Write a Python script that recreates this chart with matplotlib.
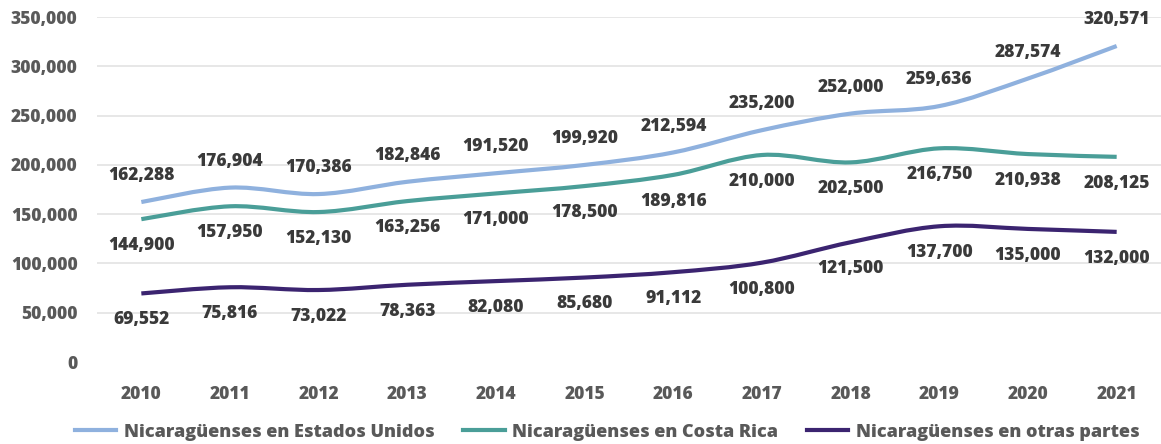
import numpy as np
import matplotlib
matplotlib.use("Agg")
from matplotlib import pyplot as plt
from matplotlib.path import Path
from matplotlib.patches import PathPatch
from matplotlib.lines import Line2D
from matplotlib.ticker import FuncFormatter

years = ['2010', '2011', '2012', '2013', '2014', '2015',
         '2016', '2017', '2018', '2019', '2020', '2021']
estados_unidos = [162288, 176904, 170386, 182846, 191520, 199920,
                  212594, 235200, 252000, 259636, 287574, 320571]
costa_rica = [144900, 157950, 152130, 163256, 171000, 178500,
              189816, 210000, 202500, 216750, 210938, 208125]
otras_partes = [69552, 75816, 73022, 78363, 82080, 85680,
                91112, 100800, 121500, 137700, 135000, 132000]
series_names = ['Nicaragüenses en Estados Unidos',
                'Nicaragüenses en Costa Rica',
                'Nicaragüenses en otras partes']

colors = ['#8fb1de', '#4a9e98', '#3b2470']
label_side = [1, -1, -1]  # above / below the line

plt.rcParams['font.family'] = ['Open Sans', 'DejaVu Sans']
plt.rcParams['font.weight'] = 'heavy'


def smooth_path(x, y):
    # Excel-style smoothed line: cubic Bezier through each point
    p = np.column_stack([x, y]).astype(float)
    verts = [p[0]]
    codes = [Path.MOVETO]
    n = len(p)
    for i in range(n - 1):
        p0 = p[max(i - 1, 0)]
        p1 = p[i]
        p2 = p[i + 1]
        p3 = p[min(i + 2, n - 1)]
        c1 = p1 + (p2 - p0) / 6.0
        c2 = p2 - (p3 - p1) / 6.0
        verts += [c1, c2, p2]
        codes += [Path.CURVE4] * 3
    return Path(verts, codes)


fig = plt.figure(figsize=(11.61, 4.44), dpi=100)
ax = fig.add_axes([97 / 1161, 1 - 362 / 444, 1 - 97 / 1161, (362 - 17) / 444])

x = np.arange(len(years))
handles = []
for vals, col, side in zip([estados_unidos, costa_rica, otras_partes], colors, label_side):
    ax.add_patch(PathPatch(smooth_path(x, vals), facecolor='none',
                           edgecolor=col, linewidth=3, capstyle='butt', zorder=3))
    for xi, v in zip(x, vals):
        ax.annotate(f'{v:,}', (xi, v), xytext=(0, 19 * side), textcoords='offset points',
                    ha='center', va='center', fontsize=12.5, fontweight='heavy',
                    color='#3a3a3a')
    handles.append(Line2D([], [], color=col, linewidth=3))

ax.set_xlim(-0.5, len(years) - 0.5)
ax.set_ylim(0, 350000)
ax.set_xticks(x)
ax.set_xticklabels(years)
ax.set_yticks(np.arange(0, 350001, 50000))
ax.yaxis.set_major_formatter(FuncFormatter(lambda v, p: f'{int(v):,}'))
ax.tick_params(length=0, labelsize=12.5, labelcolor='#595959')
ax.tick_params(axis='y', pad=14)
ax.tick_params(axis='x', pad=17)
for lab in ax.get_xticklabels() + ax.get_yticklabels():
    lab.set_fontweight('heavy')

for gy in np.arange(50000, 350001, 50000):
    ax.axhline(gy, color='#e3e3e3', linewidth=1.2, zorder=0)
for s in ax.spines.values():
    s.set_visible(False)

leg = fig.legend(handles, series_names, loc='center', bbox_to_anchor=(607 / 1161, 1 - 432 / 444),
                 ncol=3, frameon=False, fontsize=13, handlelength=2.3, handletextpad=0.4,
                 columnspacing=1.6, labelcolor='#595959')
for t in leg.get_texts():
    t.set_fontweight('heavy')

plt.savefig('out.png', dpi=100)
